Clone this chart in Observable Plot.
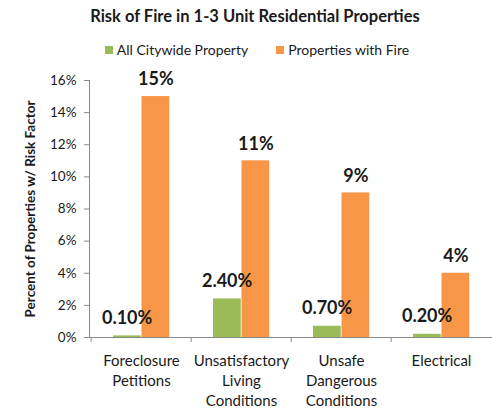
<!DOCTYPE html>
<html>
<head>
<meta charset="utf-8">
<script src="https://cdn.jsdelivr.net/npm/d3@7"></script>
<script src="https://cdn.jsdelivr.net/npm/@observablehq/plot@0.6"></script>
<style>
  html, body { margin: 0; padding: 0; background: #fff; }
  body { width: 492px; height: 410px; overflow: hidden; font-family: Lato, "Open Sans", sans-serif; color: #1a1a1a; }
  .title { height: 33px; line-height: 33px; font-size: 16.5px; font-weight: bold; text-align: center; padding-left: 18px; box-sizing: border-box; }
  .legend { height: 33px; display: flex; justify-content: center; align-items: center; font-size: 14px; padding-left: 22px; box-sizing: border-box; gap: 28px; }
  .legend span.item { display: inline-flex; align-items: center; }
  .legend i { display: inline-block; width: 8px; height: 8px; margin-right: 4px; }
  svg { display: block; }
</style>
</head>
<body>
<div class="title">Risk of Fire in 1-3 Unit Residential Properties</div>
<div class="legend" id="legend"></div>
<div id="chart"></div>
<script>
const categories = ["Foreclosure\nPetitions", "Unsatisfactory\nLiving\nConditions", "Unsafe\nDangerous\nConditions", "Electrical"];
const seriesNames = ["All Citywide Property", "Properties with Fire"];
const citywide = [0.1, 2.4, 0.7, 0.2];
const withFire = [15, 11, 9, 4];
const citywideLabels = ["0.10%", "2.40%", "0.70%", "0.20%"];
const fireLabels = ["15%", "11%", "9%", "4%"];
const yTicks = [0, 2, 4, 6, 8, 10, 12, 14, 16];
const yTitle = "Percent of Properties w/ Risk Factor";

const green = "#9BBB59";
const orange = "#F79646";

const legend = document.getElementById("legend");
[[seriesNames[0], green], [seriesNames[1], orange]].forEach(([name, c]) => {
  const s = document.createElement("span");
  s.className = "item";
  s.innerHTML = `<i style="background:${c}"></i>${name}`;
  legend.appendChild(s);
});

const greenData = categories.map((c, i) => ({cat: c, value: citywide[i], label: citywideLabels[i]}));
const fireData = categories.map((c, i) => ({cat: c, value: withFire[i], label: fireLabels[i]}));

const W = 492, H = 344, ML = 89, MR = 0;
const step = (W - ML - MR) / categories.length;

const chart = Plot.plot({
  width: W,
  height: H,
  marginLeft: ML,
  marginRight: MR,
  marginTop: 14,
  marginBottom: 73,
  style: {fontFamily: "Lato, 'Open Sans', sans-serif", color: "#1a1a1a", background: "#fff"},
  x: {domain: categories, padding: 0, label: null},
  y: {domain: [0, 16], label: null},
  marks: [
    Plot.barY(greenData, {x: "cat", y: "value", fill: green, insetLeft: 22, insetRight: step - 50.5}),
    Plot.barY(fireData, {x: "cat", y: "value", fill: orange, insetLeft: 50.5, insetRight: step - 79}),
    Plot.ruleY([0], {stroke: "#8a8a8a"}),
    Plot.frame({anchor: "left", stroke: "#8a8a8a"}),
    Plot.ruleX(categories, {x: d => d, dx: -step / 2, y1: 0, y2: -0.31, stroke: "#8a8a8a"}),
    Plot.axisY({ticks: yTicks, tickFormat: d => d + "%", tickSize: 5, tickPadding: 8, fontSize: 13.5, stroke: "#8a8a8a", label: null}),
    Plot.axisX({tickSize: 0, tickPadding: 14, fontSize: 15, lineHeight: 1.35, label: null}),
    Plot.text(greenData, {x: "cat", y: "value", text: "label", dx: 36 - step / 2, dy: -18, fontSize: 18, fontWeight: "bold", fill: "#1a1a1a"}),
    Plot.text(fireData, {x: "cat", y: "value", text: "label", dx: 64.75 - step / 2, dy: -17, fontSize: 18, fontWeight: "bold", fill: "#1a1a1a"}),
    Plot.text([yTitle], {frameAnchor: "left", textAnchor: "middle", rotate: -90, dx: -59, fontSize: 13.5, fontWeight: "bold", fill: "#1a1a1a"})
  ]
});
document.getElementById("chart").appendChild(chart);
</script>
</body>
</html>
